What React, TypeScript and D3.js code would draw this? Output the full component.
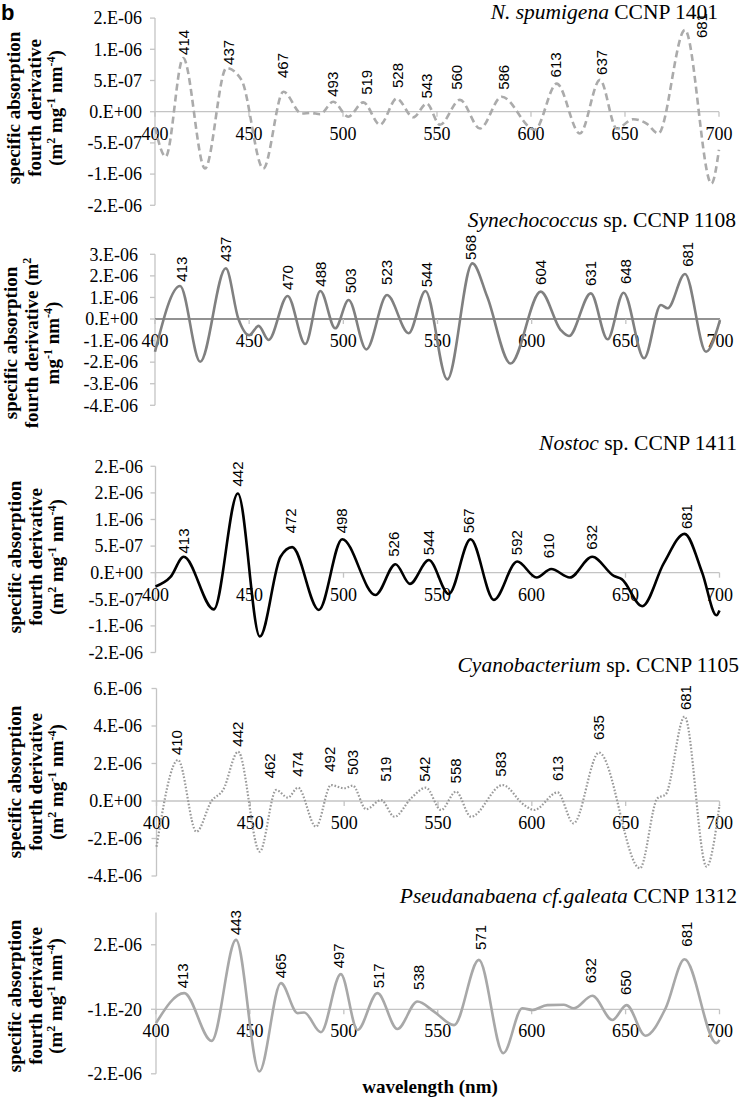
import React from "react";
import * as d3 from "d3";

// ---------- DATA (values in m^2 mg^-1 nm^-4) ----------
const E = 1e-6;

const spumigenaWl = [400, 405.7, 415, 426.6, 438, 446, 457.6, 468.3, 478, 483, 487.8, 494.8, 502.8, 510.8, 519.7, 528.6, 537.4, 544.5, 551.6, 562.2, 572.9, 584.4, 602, 613.7, 626, 636.7, 645.6, 654.4, 661.5, 667.7, 681.9, 696, 700];
const spumigenaVal = [-0.25, -0.72, 0.86, -0.91, 0.70, 0.51, -0.91, 0.32, -0.03, -0.02, -0.04, 0.16, -0.08, 0.15, -0.21, 0.21, -0.09, 0.13, -0.21, 0.19, -0.27, 0.24, -0.29, 0.45, -0.35, 0.51, -0.27, -0.12, -0.19, -0.35, 1.31, -1.15, -0.61].map(v => v * E);
const spumigenaPeaks = ["414", "437", "467", "493", "519", "528", "543", "560", "586", "613", "637", "681"];
const spumigenaPeakNm = [415.1, 439.0, 468.2, 494.8, 512.6, 529.0, 544.5, 560.5, 585.6, 613.3, 637.6, 690.8];
const spumigenaPeakVal = [0.91, 0.75, 0.54, 0.24, 0.27, 0.38, 0.21, 0.35, 0.35, 0.55, 0.59, 1.18].map(v => v * E);

const synechoWl = [400, 413.3, 424, 437.6, 444.3, 450, 455, 460.3, 470.4, 479.8, 487.8, 495.7, 502.8, 512.2, 523.2, 534.7, 543.6, 555.2, 568.5, 576.4, 588.8, 604.8, 615.4, 619.8, 631.4, 640.3, 648.8, 659.7, 668.6, 672.2, 681.4, 692.6, 700];
const synechoVal = [-1.52, 1.53, -1.98, 2.35, 0.0, -0.75, -0.32, -0.97, 1.07, -1.16, 1.30, -0.43, 0.88, -1.41, 1.11, -0.66, 1.30, -2.80, 2.58, 1.03, -2.06, 1.27, -0.51, -0.79, 1.19, -0.94, 1.22, -1.82, 0.65, 0.50, 2.09, -1.52, -0.05].map(v => v * E);
const synechoPeaks = ["413", "437", "470", "488", "503", "523", "544", "568", "604", "631", "648", "681"];
const synechoPeakNm = [414.2, 437.8, 470.4, 488.1, 503.7, 523.2, 544.1, 567.9, 604.8, 631.4, 650.0, 682.8];
const synechoPeakVal = [1.73, 2.66, 1.34, 1.50, 1.19, 1.58, 1.47, 2.74, 1.58, 1.53, 1.62, 2.42].map(v => v * E);

const nostocWl = [400, 408, 415, 431, 443.8, 455.5, 466.5, 472.7, 486.9, 499.3, 517, 527.7, 535.3, 545.4, 556, 567.6, 580, 592.4, 602.7, 610.5, 620.4, 632.3, 643.8, 648, 658.9, 670.4, 681.4, 690.8, 698.4, 700];
const nostocVal = [-0.26, -0.08, 0.30, -0.69, 1.49, -1.20, 0.30, 0.48, -0.70, 0.63, -0.42, 0.16, -0.21, 0.24, -0.40, 0.63, -0.51, 0.21, -0.09, 0.07, -0.09, 0.30, -0.06, -0.12, -0.63, 0.18, 0.73, 0.0, -0.80, -0.71].map(v => v * E);
const nostocPeaks = ["413", "442", "472", "498", "526", "544", "567", "592", "610", "632", "681"];
const nostocPeakNm = [415.1, 443.5, 471.8, 499.3, 526.8, 545.4, 566.6, 592.4, 609.2, 632.3, 682.8];
const nostocPeakVal = [0.36, 1.62, 0.74, 0.74, 0.30, 0.33, 0.74, 0.33, 0.27, 0.43, 0.82].map(v => v * E);

const cyanoWl = [400, 411.5, 421.3, 429.3, 435.5, 443.5, 455, 463.8, 470, 475.4, 485, 493, 500, 504.6, 511.7, 519.7, 526.8, 535.6, 543.6, 551.6, 559.6, 567.6, 584.4, 595.9, 601.2, 613.7, 622.2, 635.8, 657.6, 666.9, 671.3, 681.4, 693.1, 700];
const cyanoVal = [-2.44, 2.19, -1.64, 0.0, 0.59, 2.63, -2.70, 0.59, 0.18, 0.71, -1.37, 0.85, 0.68, 0.82, -0.44, 0.05, -0.84, 0.14, 0.71, -0.48, 0.50, -0.84, 0.85, -0.21, -0.48, 0.46, -1.19, 2.58, -3.59, 0.14, 0.35, 4.50, -3.50, -0.21].map(v => v * E);
const cyanoPeaks = ["410", "442", "462", "474", "492", "503", "519", "542", "558", "583", "613", "635", "681"];
const cyanoPeakNm = [410.6, 443.5, 460.3, 475.4, 492.2, 504.6, 522.3, 542.7, 559.6, 583.5, 613.7, 635.8, 681.9];
const cyanoPeakVal = [2.45, 2.90, 1.21, 1.30, 1.56, 1.39, 1.03, 1.03, 0.94, 1.30, 1.07, 3.25, 4.85].map(v => v * E);

const pseudWl = [400, 415, 429.6, 442.6, 455, 466.5, 475.4, 478.9, 487.8, 498.4, 507.3, 517.9, 528.5, 539.2, 548, 558.7, 571.9, 584.9, 595, 600.4, 608.3, 617.2, 622.5, 632.3, 643, 650.5, 660.6, 671.3, 681.4, 698.4, 700];
const pseudVal = [-0.43, 0.50, -0.98, 2.15, -1.93, 0.81, -0.12, -0.10, -0.71, 1.09, -0.64, 0.50, -0.61, 0.24, -0.07, -0.49, 1.53, -1.36, 0.03, -0.02, 0.13, 0.14, 0.03, 0.42, -0.33, 0.13, -0.82, 0.03, 1.55, -1.05, -0.95].map(v => v * E);
const pseudPeaks = ["413", "443", "465", "497", "517", "538", "571", "632", "650", "681"];
const pseudPeakNm = [414.2, 442.6, 466.5, 497.5, 518.8, 540.1, 572.9, 631.4, 650.0, 682.8];
const pseudPeakVal = [0.65, 2.30, 0.96, 1.27, 0.65, 0.60, 1.84, 0.81, 0.44, 1.94].map(v => v * E);

const xTicks = [400, 450, 500, 550, 600, 650, 700];

const yTicks1 = [-1.5, -1, -0.5, 0, 0.5, 1, 1.5].map(v => v * E);
const yTickLabels1 = ["-2.E-06", "-1.E-06", "-5.E-07", "0.E+00", "5.E-07", "1.E-06", "2.E-06"];
const yTicks2 = [-4, -3, -2, -1, 0, 1, 2, 3].map(v => v * E);
const yTickLabels2 = ["-4.E-06", "-3.E-06", "-2.E-06", "-1.E-06", "0.E+00", "1.E-06", "2.E-06", "3.E-06"];
const yTicks3 = [-1.5, -1, -0.5, 0, 0.5, 1, 1.5, 2].map(v => v * E);
const yTickLabels3 = ["-2.E-06", "-1.E-06", "-5.E-07", "0.E+00", "5.E-07", "1.E-06", "2.E-06", "2.E-06"];
const yTicks4 = [-4, -2, 0, 2, 4, 6].map(v => v * E);
const yTickLabels4 = ["-4.E-06", "-2.E-06", "0.E+00", "2.E-06", "4.E-06", "6.E-06"];
const yTicks5 = [-2, 0, 2].map(v => v * E);
const yTickLabels5 = ["-2.E-06", "-1.E-20", "2.E-06"];

// ---------- LAYOUT ----------
const SERIF = "'Liberation Serif', 'Times New Roman', serif";
const SANS = "'Liberation Sans', Arial, sans-serif";

type PanelCfg = {
  wl: number[]; val: number[];
  peaks: string[]; peakNm: number[]; peakVal: number[];
  yTicks: number[]; yTickLabels: string[];
  yDomain: [number, number]; yRange: [number, number];
  xLeft: number; xRight: number;
  titleItalic: string; titleRest: string; titleX: number; titleY: number;
  color: string; width: number; dash?: string;
  axisColor: string; zeroColor: string;
  yLabelEnd: number;
  yTitleLines: number; yTitleCenter: number; yTitleX: number[];
};

const panels: PanelCfg[] = [
  {
    wl: spumigenaWl, val: spumigenaVal, peaks: spumigenaPeaks, peakNm: spumigenaPeakNm, peakVal: spumigenaPeakVal,
    yTicks: yTicks1, yTickLabels: yTickLabels1, yDomain: [-1.5 * E, 1.5 * E], yRange: [205.3, 18.1],
    xLeft: 155, xRight: 719,
    titleItalic: "N. spumigena", titleRest: " CCNP 1401", titleX: 718, titleY: 19,
    color: "#ababab", width: 2.6, dash: "7 4", axisColor: "#c4c4c4", zeroColor: "#c4c4c4",
    yLabelEnd: 142, yTitleLines: 1, yTitleCenter: 108, yTitleX: [20, 41, 62],
  },
  {
    wl: synechoWl, val: synechoVal, peaks: synechoPeaks, peakNm: synechoPeakNm, peakVal: synechoPeakVal,
    yTicks: yTicks2, yTickLabels: yTickLabels2, yDomain: [-4 * E, 3 * E], yRange: [405.3, 254.3],
    xLeft: 155, xRight: 720,
    titleItalic: "Synechococcus", titleRest: " sp. CCNP 1108", titleX: 736, titleY: 227,
    color: "#808080", width: 2.6, axisColor: "#c4c4c4", zeroColor: "#6e6e6e",
    yLabelEnd: 138, yTitleLines: 2, yTitleCenter: 343, yTitleX: [17, 38, 59],
  },
  {
    wl: nostocWl, val: nostocVal, peaks: nostocPeaks, peakNm: nostocPeakNm, peakVal: nostocPeakVal,
    yTicks: yTicks3, yTickLabels: yTickLabels3, yDomain: [-1.5 * E, 2 * E], yRange: [652.5, 466.3],
    xLeft: 155.5, xRight: 719.5,
    titleItalic: "Nostoc", titleRest: " sp. CCNP 1411", titleX: 737, titleY: 450,
    color: "#000000", width: 2.6, axisColor: "#c4c4c4", zeroColor: "#c4c4c4",
    yLabelEnd: 143, yTitleLines: 1, yTitleCenter: 557, yTitleX: [21, 42, 63],
  },
  {
    wl: cyanoWl, val: cyanoVal, peaks: cyanoPeaks, peakNm: cyanoPeakNm, peakVal: cyanoPeakVal,
    yTicks: yTicks4, yTickLabels: yTickLabels4, yDomain: [-4 * E, 6 * E], yRange: [876, 688.5],
    xLeft: 156.5, xRight: 719.5,
    titleItalic: "Cyanobacterium", titleRest: " sp. CCNP 1105", titleX: 739, titleY: 672,
    color: "#9a9a9a", width: 2.2, dash: "1.6 1.8", axisColor: "#c4c4c4", zeroColor: "#c4c4c4",
    yLabelEnd: 142, yTitleLines: 1, yTitleCenter: 782, yTitleX: [21, 42, 63],
  },
  {
    wl: pseudWl, val: pseudVal, peaks: pseudPeaks, peakNm: pseudPeakNm, peakVal: pseudPeakVal,
    yTicks: yTicks5, yTickLabels: yTickLabels5, yDomain: [-2 * E, 3 * E], yRange: [1073.8, 912.5],
    xLeft: 156, xRight: 719.5,
    titleItalic: "Pseudanabaena cf.galeata", titleRest: " CCNP 1312", titleX: 737, titleY: 903,
    color: "#a8a8a8", width: 2.6, axisColor: "#c4c4c4", zeroColor: "#c4c4c4",
    yLabelEnd: 142, yTitleLines: 1, yTitleCenter: 996, yTitleX: [21, 42, 62],
  },
];

function YTitle({ cfg }: { cfg: PanelCfg }) {
  const c = cfg.yTitleCenter;
  const [x1, x2, x3] = cfg.yTitleX;
  const common = { fontFamily: SERIF, fontWeight: 700, fontSize: 19, textAnchor: "middle" as const, fill: "#000" };
  const sup = (s: string) => <tspan dy={-7} fontSize={12}>{s}</tspan>;
  if (cfg.yTitleLines === 2) {
    return (
      <g>
        <text {...common} transform={`translate(${x1},${c}) rotate(-90)`}>specific absorption</text>
        <text {...common} transform={`translate(${x2},${c}) rotate(-90)`}>fourth derivative (m{sup("2")}</text>
        <text {...common} transform={`translate(${x3},${c}) rotate(-90)`}>mg{sup("-1")}<tspan dy={7}> nm</tspan>{sup("-4")}<tspan dy={7}>)</tspan></text>
      </g>
    );
  }
  return (
    <g>
      <text {...common} transform={`translate(${x1},${c}) rotate(-90)`}>specific absorption</text>
      <text {...common} transform={`translate(${x2},${c}) rotate(-90)`}>fourth derivative</text>
      <text {...common} transform={`translate(${x3},${c}) rotate(-90)`}>(m{sup("2")}<tspan dy={7}> mg</tspan>{sup("-1")}<tspan dy={7}> nm</tspan>{sup("-4")}<tspan dy={7}>)</tspan></text>
    </g>
  );
}

function Panel({ cfg }: { cfg: PanelCfg }) {
  const x = d3.scaleLinear().domain([400, 700]).range([cfg.xLeft, cfg.xRight]);
  const y = d3.scaleLinear().domain(cfg.yDomain).range(cfg.yRange);
  const pts: [number, number][] = cfg.wl.map((w, i) => [w, cfg.val[i]]);
  const line = d3.line<[number, number]>().x(d => x(d[0])).y(d => y(d[1])).curve(d3.curveMonotoneX);
  const y0 = y(0);
  return (
    <g>
      <line x1={x(400)} x2={x(400)} y1={cfg.yRange[1]} y2={cfg.yRange[0]} stroke={cfg.axisColor} strokeWidth={1.3} />
      {cfg.yTicks.map((t, i) => (
        <g key={"yt" + i}>
          <line x1={x(400) - 5} x2={x(400)} y1={y(t)} y2={y(t)} stroke={cfg.axisColor} strokeWidth={1.3} />
          <text x={cfg.yLabelEnd} y={y(t)} dy="0.35em" textAnchor="end" fontFamily={SERIF} fontSize={18} fill="#000">{cfg.yTickLabels[i]}</text>
        </g>
      ))}
      <line x1={x(400)} x2={x(700)} y1={y0} y2={y0} stroke={cfg.zeroColor} strokeWidth={1.3} />
      {xTicks.map(t => (
        <g key={"xt" + t}>
          <line x1={x(t)} x2={x(t)} y1={y0} y2={y0 + 5} stroke={cfg.axisColor} strokeWidth={1.3} />
          <text x={x(t)} y={y0 + 28} textAnchor="middle" fontFamily={SERIF} fontSize={18} fill="#000">{t}</text>
        </g>
      ))}
      <path d={line(pts) || ""} fill="none" stroke={cfg.color} strokeWidth={cfg.width} strokeDasharray={cfg.dash} strokeLinejoin="round" />
      {cfg.peaks.map((p, i) => (
        <text key={"pk" + i} transform={`translate(${x(cfg.peakNm[i])},${y(cfg.peakVal[i])}) rotate(-90)`} dy="0.35em" textAnchor="start" fontFamily={SANS} fontSize={15} fill="#000">{p}</text>
      ))}
      <text x={cfg.titleX} y={cfg.titleY} textAnchor="end" fontFamily={SERIF} fontSize={21.5} fill="#000">
        <tspan fontStyle="italic">{cfg.titleItalic}</tspan>{cfg.titleRest}
      </text>
      <YTitle cfg={cfg} />
    </g>
  );
}

export default function App() {
  return (
    <svg width={742} height={1099} style={{ position: "absolute", left: 0, top: 0, display: "block", background: "#fff" }}>
      <rect width={742} height={1099} fill="#fff" />
      <text x={1} y={20} fontFamily={SANS} fontWeight={700} fontSize={22} fill="#000">b</text>
      {panels.map((p, i) => <Panel key={i} cfg={p} />)}
      <text x={430} y={1093} textAnchor="middle" fontFamily={SERIF} fontWeight={700} fontSize={19} fill="#000">wavelength (nm)</text>
    </svg>
  );
}
